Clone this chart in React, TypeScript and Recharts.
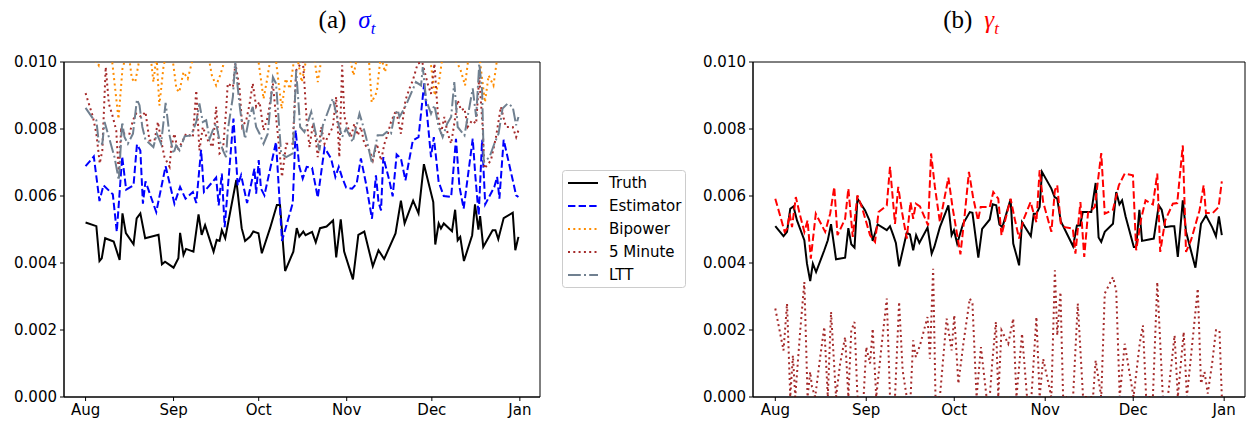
import React from 'react';
import { LineChart, Line, XAxis, YAxis, ReferenceArea } from 'recharts';

// x = days since 1 Aug, y = value in units of 1e-3
const MONTH_TICKS = [0, 31, 61, 92, 122, 153];
const MONTH_LABELS = ['Aug', 'Sep', 'Oct', 'Nov', 'Dec', 'Jan'];
const Y_TICKS = [0, 0.002, 0.004, 0.006, 0.008, 0.01];
const X_DOMAIN = [-7.6, 160.1];

// (a) sigma_t
const sigmaTruth = [
  [0, 5.21], [3.8, 5.1], [4.9, 4.06], [5.7, 4.14], [6.9, 4.74], [9.9, 4.64], [12, 4.09], [13, 5.48],
  [14.2, 4.89], [16.9, 4.56], [18, 5.33], [19.3, 5.48], [21, 4.74], [25.7, 4.84], [26.9, 3.96], [28, 4.04],
  [31, 3.86], [32.7, 4.14], [33.3, 4.9], [34.5, 4.24], [35.4, 4.42], [38, 4.34], [39.8, 5.45], [40.9, 4.84],
  [42.1, 5.13], [45.1, 4.34], [46.2, 4.69], [47.2, 4.66], [48, 4.98], [49.2, 4.74], [53.1, 6.48], [55, 5.04],
  [56.2, 4.66], [58, 4.79], [59.1, 4.94], [60.9, 4.89], [62.1, 4.29], [65, 5.04], [67.4, 5.73], [68.5, 5.73],
  [70.3, 3.76], [73.2, 4.34], [74.4, 5.04], [75.3, 4.79], [76.7, 4.94], [77.5, 4.83], [79.8, 4.93], [81.1, 4.62],
  [82.6, 5.04], [84.9, 5.09], [87.2, 5.27], [88.3, 4.17], [89.9, 5.3], [91.1, 4.34], [94.2, 3.51], [96.1, 4.84],
  [98.2, 4.94], [101.2, 3.9], [103.2, 4.38], [105.2, 4.12], [109.2, 4.88], [111.1, 5.86], [112.4, 5.18],
  [115.4, 5.86], [117.3, 5.48], [119.2, 6.95], [122.5, 5.82], [123.2, 4.55], [124.4, 5.18], [125.2, 5.03],
  [126.2, 5.18], [129.1, 4.95], [130.2, 5.59], [131.1, 4.68], [132, 4.78], [133.3, 4.06], [136.2, 4.83],
  [137.2, 5.75], [138.4, 5.0], [139, 5.4], [140.1, 4.48], [143.4, 4.98], [144.4, 4.98], [145.4, 4.71],
  [147.3, 5.34], [150.5, 5.5], [151.4, 4.38], [152.5, 4.78],
];

const sigmaEstimator = [
  [0, 6.89], [2.9, 7.18], [4.9, 5.85], [6.3, 6.32], [9.6, 6.05], [11, 4.93], [12.9, 7.18], [14.3, 6.19],
  [16.9, 6.32], [18.1, 7.54], [19.3, 7.36], [20.2, 5.77], [21.1, 6.44], [24.9, 5.52], [28.2, 6.89], [31.3, 5.77],
  [33.3, 6.27], [35.2, 5.92], [37.8, 6.12], [39, 5.79], [40.7, 7.38], [41.7, 6.12], [46, 6.55], [46.9, 5.72],
  [48, 6.67], [49, 5.07], [52.1, 8.31], [53.6, 6.32], [54.8, 6.62], [56.9, 5.79], [59.5, 6.82], [60.1, 6.07],
  [61, 7.07], [61.8, 6.22], [63, 6.02], [67.1, 7.61], [69.2, 4.66], [73, 5.79], [74, 7.96], [75.3, 6.88],
  [76.5, 6.52], [77.9, 6.87], [79.8, 6.84], [81.8, 5.95], [84.2, 7.44], [86.5, 7.12], [88, 6.57], [89.2, 6.87],
  [90.4, 6.55], [91.8, 6.25], [93.9, 6.22], [95.5, 6.37], [97, 7.12], [98.8, 6.37], [100.9, 5.32], [102.3, 6.62],
  [103.2, 5.82], [104.1, 5.57], [104.9, 7.16], [107, 6.47], [108.2, 5.99], [109.6, 7.24], [111.1, 7.12],
  [112.7, 6.47], [115.3, 7.66], [117.3, 7.76], [119.3, 9.36], [121.7, 7.16], [122.7, 7.76], [124.4, 6.42],
  [126.2, 6.0], [128.8, 5.97], [130.5, 7.71], [131.7, 6.29], [133.2, 5.62], [136.4, 7.71], [137.3, 6.62],
  [138.5, 5.42], [139.7, 7.68], [140.8, 5.75], [144, 6.27], [145, 6.57], [145.8, 5.92], [147.3, 7.68],
  [151.7, 6.02], [152.5, 5.97],
];

const sigmaBipower = [
  [0, 10.6], [2, 10.2], [4.6, 9.9], [5.5, 10.4], [7, 10.1], [9, 10.3], [11.6, 8.3], [13, 9.8], [15, 10.4],
  [16.3, 9.5], [17.5, 9.4], [19, 10.1], [21, 10.3], [22.5, 10.5], [23.9, 9.4], [25, 10.2], [26, 8.7],
  [27.5, 9.9], [29, 10.4], [30.5, 10.2], [32, 9.2], [33, 9.1], [34.5, 9.7], [36, 9.5], [37.5, 10.0], [39, 10.4],
  [41, 10.1], [43, 10.3], [44.5, 9.6], [46, 9.3], [47.4, 9.6], [48.5, 9.9], [50, 10.5], [52, 10.2], [54, 10.4],
  [56, 10.1], [58, 10.3], [60, 10.6], [62.7, 8.9], [64, 9.5], [65.5, 10.3], [67, 10.1], [69.1, 8.6], [70.5, 9.5],
  [72, 9.2], [74, 10.4], [76.2, 9.4], [78, 10.2], [80, 10.5], [81.8, 9.4], [83.5, 10.3], [85, 10.6], [87, 10.2],
  [89, 10.5], [91, 10.1], [92.5, 10.4], [94.4, 9.6], [96, 10.3], [98, 10.1], [99.5, 10.5], [100.8, 8.8],
  [102.6, 9.1], [104, 10.2], [105.5, 9.7], [107, 10.3], [109, 10.1], [111, 10.4], [113, 10.6], [115, 10.3],
  [117, 10.5], [119, 10.2], [121, 10.4], [123, 9.0], [124.5, 9.4], [126, 10.3], [128, 10.5], [130, 10.1],
  [132, 9.8], [133.7, 9.3], [135, 10.2], [137, 10.4], [139, 10.0], [140.7, 8.8], [142, 9.6], [143.7, 9.3],
  [145, 10.1], [147, 10.4], [149, 10.2], [151, 10.5], [152.5, 10.3],
];

const sigmaFiveMin = [
  [0, 9.07], [2.6, 8.36], [3.8, 7.86], [5, 6.97], [5.9, 7.36], [6.5, 8.61], [7.1, 9.85], [8.2, 8.76],
  [9.6, 8.36], [10.8, 7.96], [11.7, 6.67], [12.5, 7.96], [13.7, 7.86], [15.5, 7.86], [16.7, 8.26], [17.8, 8.46],
  [19.6, 8.36], [21.1, 8.51], [22.5, 7.66], [24.3, 7.66], [25.5, 8.21], [26.6, 7.66], [27.8, 7.16], [29.6, 6.87],
  [30.2, 7.46], [31.3, 7.86], [32.5, 7.36], [34.3, 7.66], [35.4, 7.86], [37.8, 7.76], [39, 9.15], [40.1, 7.36],
  [41.3, 8.06], [43.1, 7.66], [44.8, 7.46], [46, 8.66], [47.2, 7.27], [48.4, 7.36], [49.5, 8.56], [50.1, 9.36],
  [51.9, 9.25], [52.8, 9.95], [54.2, 9.25], [55.2, 8.06], [56.6, 8.26], [57.7, 8.71], [58.9, 9.36], [60.1, 8.66],
  [61.3, 8.81], [62.7, 7.96], [64.2, 8.36], [66, 9.36], [67.1, 8.36], [68.3, 7.36], [69.2, 6.57], [70.7, 7.56],
  [73, 7.56], [74.2, 9.75], [75.4, 9.9], [76.5, 10.1], [77.1, 9.36], [77.9, 8.26], [78.9, 7.46], [80.1, 8.16],
  [81, 7.76], [81.8, 7.16], [83, 8.06], [84.2, 7.56], [85.3, 7.76], [87.1, 8.06], [88.3, 8.96], [89.4, 7.16],
  [90.4, 9.9], [91.2, 8.36], [92.4, 8.06], [93.5, 7.76], [94.7, 8.16], [95.9, 7.81], [97, 8.06], [98.2, 7.56],
  [100, 7.36], [101.2, 7.06], [102.6, 7.56], [104.1, 7.06], [105.3, 7.56], [106.5, 7.86], [107.6, 8.21],
  [109.4, 8.56], [111.1, 7.86], [112.7, 8.86], [114.1, 9.21], [115.3, 9.45], [117, 9.95], [118.6, 10.0],
  [120.5, 9.36], [121.7, 9.05], [122.9, 9.95], [124.1, 8.46], [125.2, 7.86], [126.4, 8.36], [127.6, 7.86],
  [128.8, 7.56], [129.9, 8.16], [131.1, 8.86], [132.3, 8.56], [133.5, 8.61], [134.6, 8.06], [136.2, 8.26],
  [137.6, 8.16], [138.7, 9.55], [139.9, 8.06], [140.5, 6.82], [142.8, 7.06], [144.6, 7.76], [146.3, 8.66],
  [148.1, 8.06], [150.5, 8.06], [151.7, 7.76], [152.5, 7.96],
];

const sigmaLtt = [
  [0, 8.63], [2.6, 8.31], [3.8, 8.26], [4.7, 7.56], [5.9, 7.56], [6.7, 8.21], [10.2, 7.16], [11.7, 6.47],
  [12.9, 8.21], [13.7, 7.76], [14.9, 7.56], [16.7, 7.86], [18.1, 8.88], [19, 8.71], [20, 8.06], [21.1, 7.68],
  [23.9, 7.46], [25.1, 7.86], [26.6, 7.56], [28.2, 8.78], [29.6, 7.81], [31, 7.27], [31.9, 7.51], [33.1, 7.36],
  [34.9, 7.78], [37.2, 7.81], [39, 8.21], [40.1, 8.76], [41.3, 8.21], [42.5, 8.26], [43.7, 7.71], [44.8, 7.96],
  [46, 8.16], [47.2, 7.66], [48.4, 7.36], [49.5, 7.16], [50.1, 7.96], [51.9, 8.96], [52.7, 10.0], [54.2, 8.76],
  [54.8, 8.36], [56.2, 7.71], [57.7, 8.36], [58.9, 8.66], [60.1, 8.06], [61.3, 7.86], [62.7, 7.56], [64.2, 7.86],
  [66, 9.55], [67.1, 9.36], [68.9, 7.27], [70.7, 7.16], [73, 7.27], [74.2, 9.75], [75.6, 8.06], [77.1, 7.91],
  [79.5, 8.51], [80.6, 8.06], [82.4, 7.36], [83.6, 8.11], [87.1, 8.91], [88.3, 8.46], [89.2, 8.11], [90.4, 7.76],
  [91.8, 8.01], [94.1, 7.61], [96.5, 8.46], [97.4, 8.21], [98.8, 7.76], [100.9, 6.97], [102.9, 7.81],
  [104.7, 7.81], [106.1, 7.91], [107.6, 7.86], [108.8, 8.41], [110, 8.56], [110.6, 8.36], [112.9, 8.71],
  [116.4, 9.4], [118.2, 9.3], [118.8, 9.85], [120, 8.86], [121.7, 8.46], [122.9, 8.71], [124.4, 8.06],
  [125.8, 7.76], [127.4, 8.16], [128.8, 8.36], [129.9, 9.4], [131.1, 8.06], [133.5, 7.81], [134.6, 8.36],
  [136.4, 9.21], [137.6, 8.36], [138.7, 9.95], [139.7, 9.15], [140.3, 7.01], [142.3, 7.16], [144, 7.56],
  [145.5, 7.86], [146.9, 8.61], [148.7, 8.76], [150.5, 8.66], [151.7, 8.11], [152.5, 8.36],
];

// (b) gamma_t
const gammaTruth = [
  [0, 5.1], [2.8, 4.8], [4, 4.93], [5.1, 5.62], [6.2, 5.69], [7.4, 5.27], [9.9, 4.68], [10.8, 3.98],
  [11.9, 3.46], [12.8, 3.98], [13.9, 3.73], [16.7, 4.38], [17.9, 4.68], [19, 5.16], [20.7, 4.11], [23.8, 4.16],
  [24.9, 5.04], [25.9, 4.56], [27, 4.46], [28, 5.92], [30.6, 5.57], [32.1, 5.27], [33.2, 4.66], [34.9, 5.15],
  [38, 4.98], [39.1, 5.1], [40.2, 4.83], [41.1, 4.6], [42.2, 3.9], [44.8, 4.9], [45.9, 4.85], [47, 4.38],
  [48, 4.83], [49.1, 4.6], [51.9, 5.06], [53.3, 4.28], [54.2, 4.48], [56.1, 5.07], [59, 5.72], [60.1, 4.83],
  [60.9, 4.98], [62, 4.58], [64, 5.17], [66.3, 5.52], [67.2, 5.5], [69.2, 4.16], [70.5, 5.02], [73.1, 5.3],
  [74.1, 5.75], [75.3, 5.72], [76.4, 5.15], [77.4, 5.07], [80.2, 5.9], [81.1, 4.58], [82.2, 4.23], [83.1, 3.93],
  [84.1, 5.22], [85.8, 4.98], [87.1, 4.8], [88.1, 5.47], [89, 5.47], [90.1, 5.67], [90.9, 6.72], [94.1, 6.22],
  [95.2, 5.97], [96.1, 5.92], [97.3, 5.25], [101.5, 4.5], [102.8, 5.12], [103.9, 5.12], [104.8, 5.52],
  [107.7, 5.52], [109.2, 6.39], [110.2, 4.76], [111.1, 4.63], [112.3, 4.93], [115.1, 5.17], [116.2, 6.12],
  [117.3, 5.75], [118.2, 5.87], [119.4, 5.39], [122.2, 4.48], [123, 4.48], [124.1, 5.59], [125, 4.66],
  [129, 4.73], [130.7, 5.72], [131.7, 5.59], [132.9, 5.07], [134.9, 5.1], [136, 5.1], [137.2, 4.18],
  [138.9, 5.87], [140, 4.93], [143.2, 3.86], [145.1, 5.17], [146.8, 5.42], [148.9, 5.07], [150.2, 4.8],
  [151.2, 5.39], [152.2, 4.83],
];

const gammaEstimator = [
  [0, 5.92], [3.2, 4.93], [4, 5.03], [4.9, 5.47], [5.7, 5.07], [7, 5.97], [8.3, 5.47], [9.9, 4.93], [11, 5.27],
  [12.1, 4.13], [13.8, 5.47], [17, 4.93], [18.7, 5.47], [20.1, 6.27], [21.2, 4.83], [23.8, 5.32], [24.9, 6.22],
  [26.4, 4.78], [28, 6.02], [29.5, 5.67], [32.3, 4.83], [34, 4.63], [35.2, 5.52], [38, 5.72], [39.1, 6.87],
  [40.8, 5.17], [41.9, 6.27], [43.3, 5.47], [44.8, 4.73], [46.1, 5.82], [47, 5.32], [47.9, 5.77], [49.3, 5.69],
  [52.1, 5.12], [53.1, 7.27], [54.4, 6.27], [56.1, 5.22], [59, 6.55], [60.4, 5.67], [63.1, 4.26], [64.6, 5.47],
  [66, 6.72], [67.4, 5.97], [69.1, 5.27], [70, 5.67], [73.1, 5.67], [74.3, 6.12], [76, 5.92], [77.1, 4.83],
  [80.2, 5.92], [81.6, 5.32], [83.1, 4.73], [84.5, 5.27], [87, 5.82], [88.1, 5.47], [89, 5.22], [90.1, 6.77],
  [91.3, 5.82], [94.1, 4.93], [95.3, 6.17], [96.1, 6.32], [97.3, 5.19], [98.7, 5.07], [101.4, 5.03],
  [102.3, 4.28], [104, 5.82], [105.3, 4.18], [106.6, 5.5], [108.9, 5.67], [111.1, 7.28], [112.3, 5.47],
  [115.1, 5.59], [117.1, 6.32], [119.1, 6.67], [121.9, 6.62], [123, 4.38], [124.7, 5.32], [126.2, 5.87],
  [128.7, 5.75], [130.2, 6.67], [131.2, 4.33], [132.9, 5.27], [135.5, 5.77], [137, 5.79], [138.9, 7.51],
  [140, 4.33], [141.7, 4.68], [144.6, 5.57], [146, 6.32], [146.8, 5.49], [149.1, 5.49], [151.1, 5.67],
  [152.2, 6.44],
];

const gammaFiveMin = [
  [0, 2.64], [2.8, 1.39], [4, 2.79], [5.1, 0], [6, 1.24], [6.8, 0], [8.5, 1.99], [9.9, 3.43], [11, 0],
  [11.9, 0.75], [12.5, 0.3], [13.6, 0], [15.3, 1.19], [16.7, 2.09], [17.9, 0], [19, 2.54], [20.7, 0], [22.1, 1.0],
  [23.8, 1.79], [24.9, 0], [25.9, 1.99], [27, 2.24], [28, 0], [30.1, 0], [31, 1.49], [32.3, 1.0], [33.2, 2.04],
  [34.4, 0], [36.3, 1.59], [38, 2.94], [39.1, 0], [40.8, 0], [42.2, 2.84], [43.4, 0.8], [44.8, 0], [46.1, 0],
  [47, 1.69], [47.9, 1.19], [49.3, 1.54], [51.9, 2.39], [52.7, 1.14], [53.8, 3.83], [54.6, 0], [56.1, 0],
  [58.4, 2.34], [60.1, 1.39], [61, 2.44], [62.4, 0.4], [64.1, 1.59], [66.3, 2.94], [67.2, 2.79], [68.6, 0],
  [70.1, 1.49], [72, 0], [73.1, 0], [74, 1.09], [75.2, 2.24], [76, 0], [77.1, 1.99], [79.4, 1.59], [81.1, 2.34],
  [82.2, 0], [84.1, 1.89], [85.8, 0], [87.3, 0], [89, 2.39], [90.1, 0], [91.3, 1.14], [94.1, 0], [95.3, 3.78],
  [96.1, 1.84], [97.2, 3.13], [98.1, 0], [101.5, 0], [103.1, 2.79], [104.9, 0], [108.3, 0], [109.2, 1.09],
  [111.1, 0], [112.3, 3.09], [115.1, 3.58], [116.2, 3.18], [117.4, 0], [119.1, 1.59], [122.1, 0], [124.2, 1.59],
  [125.3, 2.14], [126.4, 0], [128.7, 0], [130.2, 3.43], [132.1, 0], [133.8, 0], [136.1, 1.84], [137.2, 0],
  [139.2, 1.94], [140.3, 0], [144, 3.24], [145.1, 0.4], [146.3, 0.75], [147.4, 0.1], [148.9, 1.0],
  [150.2, 1.99], [151.4, 1.99], [152.2, 0],
];

const gammaBipower = [[0, 0], [152.2, 0]];
const gammaLtt = [[0, 0], [152.2, 0]];

const toPoints = (pairs) => pairs.map(([day, v]) => ({ day, v: v * 1e-3 }));

// matplotlib-like dash patterns, scaled for a 2px line
const STYLE = {
  truth: { name: 'Truth', stroke: '#000000', dash: undefined },
  estimator: { name: 'Estimator', stroke: '#0000ff', dash: '7.4 3.2' },
  bipower: { name: 'Bipower', stroke: '#ff8c00', dash: '2 3.3' },
  fiveMin: { name: '5 Minute', stroke: '#a52a2a', dash: '2 3.3' },
  ltt: { name: 'LTT', stroke: '#708090', dash: '12.8 3.2 2 3.2' },
};

const LINE_W = 2;
const FONT = '"DejaVu Sans", sans-serif';

function Panel({ width, rightMargin, series }) {
  return (
    <LineChart width={width} height={427} margin={{ top: 62, right: rightMargin, left: 0, bottom: 0 }}>
      <XAxis
        type="number"
        dataKey="day"
        domain={X_DOMAIN}
        allowDataOverflow
        ticks={MONTH_TICKS}
        tickFormatter={(v) => MONTH_LABELS[MONTH_TICKS.indexOf(v)]}
        height={30}
        tickSize={4}
        tickMargin={3}
        stroke="#000"
        tick={{ fill: '#000', fontSize: 15, fontFamily: FONT }}
      />
      <YAxis
        type="number"
        dataKey="v"
        domain={[0, 0.01]}
        allowDataOverflow
        ticks={Y_TICKS}
        tickFormatter={(v) => v.toFixed(3)}
        width={64}
        tickSize={4}
        tickMargin={3}
        stroke="#000"
        tick={{ fill: '#000', fontSize: 15, fontFamily: FONT }}
      />
      {series.map((s) => (
        <Line
          key={s.key}
          data={toPoints(s.data)}
          dataKey="v"
          type="linear"
          stroke={s.stroke}
          strokeWidth={LINE_W}
          strokeDasharray={s.dash}
          dot={false}
          activeDot={false}
          isAnimationActive={false}
        />
      ))}
      <ReferenceArea
        x1={X_DOMAIN[0]}
        x2={X_DOMAIN[1]}
        y1={0}
        y2={0.01}
        fill="none"
        stroke="#000"
        strokeWidth={1}
        ifOverflow="visible"
      />
    </LineChart>
  );
}

const leftSeries = [
  { key: 'truth', data: sigmaTruth, ...STYLE.truth },
  { key: 'estimator', data: sigmaEstimator, ...STYLE.estimator },
  { key: 'bipower', data: sigmaBipower, ...STYLE.bipower },
  { key: 'fiveMin', data: sigmaFiveMin, ...STYLE.fiveMin },
  { key: 'ltt', data: sigmaLtt, ...STYLE.ltt },
];

const rightSeries = [
  { key: 'truth', data: gammaTruth, ...STYLE.truth },
  { key: 'estimator', data: gammaEstimator, ...STYLE.estimator, stroke: '#ff0000' },
  { key: 'bipower', data: gammaBipower, ...STYLE.bipower },
  { key: 'fiveMin', data: gammaFiveMin, ...STYLE.fiveMin },
  { key: 'ltt', data: gammaLtt, ...STYLE.ltt },
];

const legendItems = [STYLE.truth, STYLE.estimator, STYLE.bipower, STYLE.fiveMin, STYLE.ltt];

function Legend() {
  return (
    <svg width={126} height={120} style={{ position: 'absolute', left: 561, top: 169 }}>
      <rect x={1.5} y={1.5} width={123} height={117} rx={3} fill="#fff" stroke="#cccccc" />
      {legendItems.map((it, i) => (
        <g key={it.name}>
          <line x1={7} x2={37} y1={14 + i * 23} y2={14 + i * 23} stroke={it.stroke} strokeWidth={LINE_W} strokeDasharray={it.dash} />
          <text x={48} y={14 + i * 23} dominantBaseline="central" fontSize={15} fontFamily={FONT} fill="#000">
            {it.name}
          </text>
        </g>
      ))}
    </svg>
  );
}

function Title({ center, label, symbol, color }) {
  return (
    <div
      style={{
        position: 'absolute',
        left: center - 100,
        width: 200,
        top: 6,
        textAlign: 'center',
        fontFamily: '"Liberation Serif", serif',
        fontSize: 25,
        lineHeight: '28px',
        whiteSpace: 'nowrap',
      }}
    >
      {label}
      <span style={{ color, fontStyle: 'italic', marginLeft: 12 }}>
        {symbol}
        <sub style={{ fontSize: 17 }}>t</sub>
      </span>
    </div>
  );
}

export default function App() {
  return (
    <div style={{ position: 'absolute', left: 0, top: 0, width: 1254, height: 427, background: '#fff', overflow: 'hidden' }}>
      <Title center={347} label="(a)" symbol="σ" color="#0000ff" />
      <Title center={971} label="(b)" symbol="γ" color="#ff0000" />
      <div style={{ position: 'absolute', left: 0, top: 0 }}>
        <Panel width={560} rightMargin={20} series={leftSeries} />
      </div>
      <div style={{ position: 'absolute', left: 689, top: 0 }}>
        <Panel width={565} rightMargin={9} series={rightSeries} />
      </div>
      <Legend />
    </div>
  );
}
